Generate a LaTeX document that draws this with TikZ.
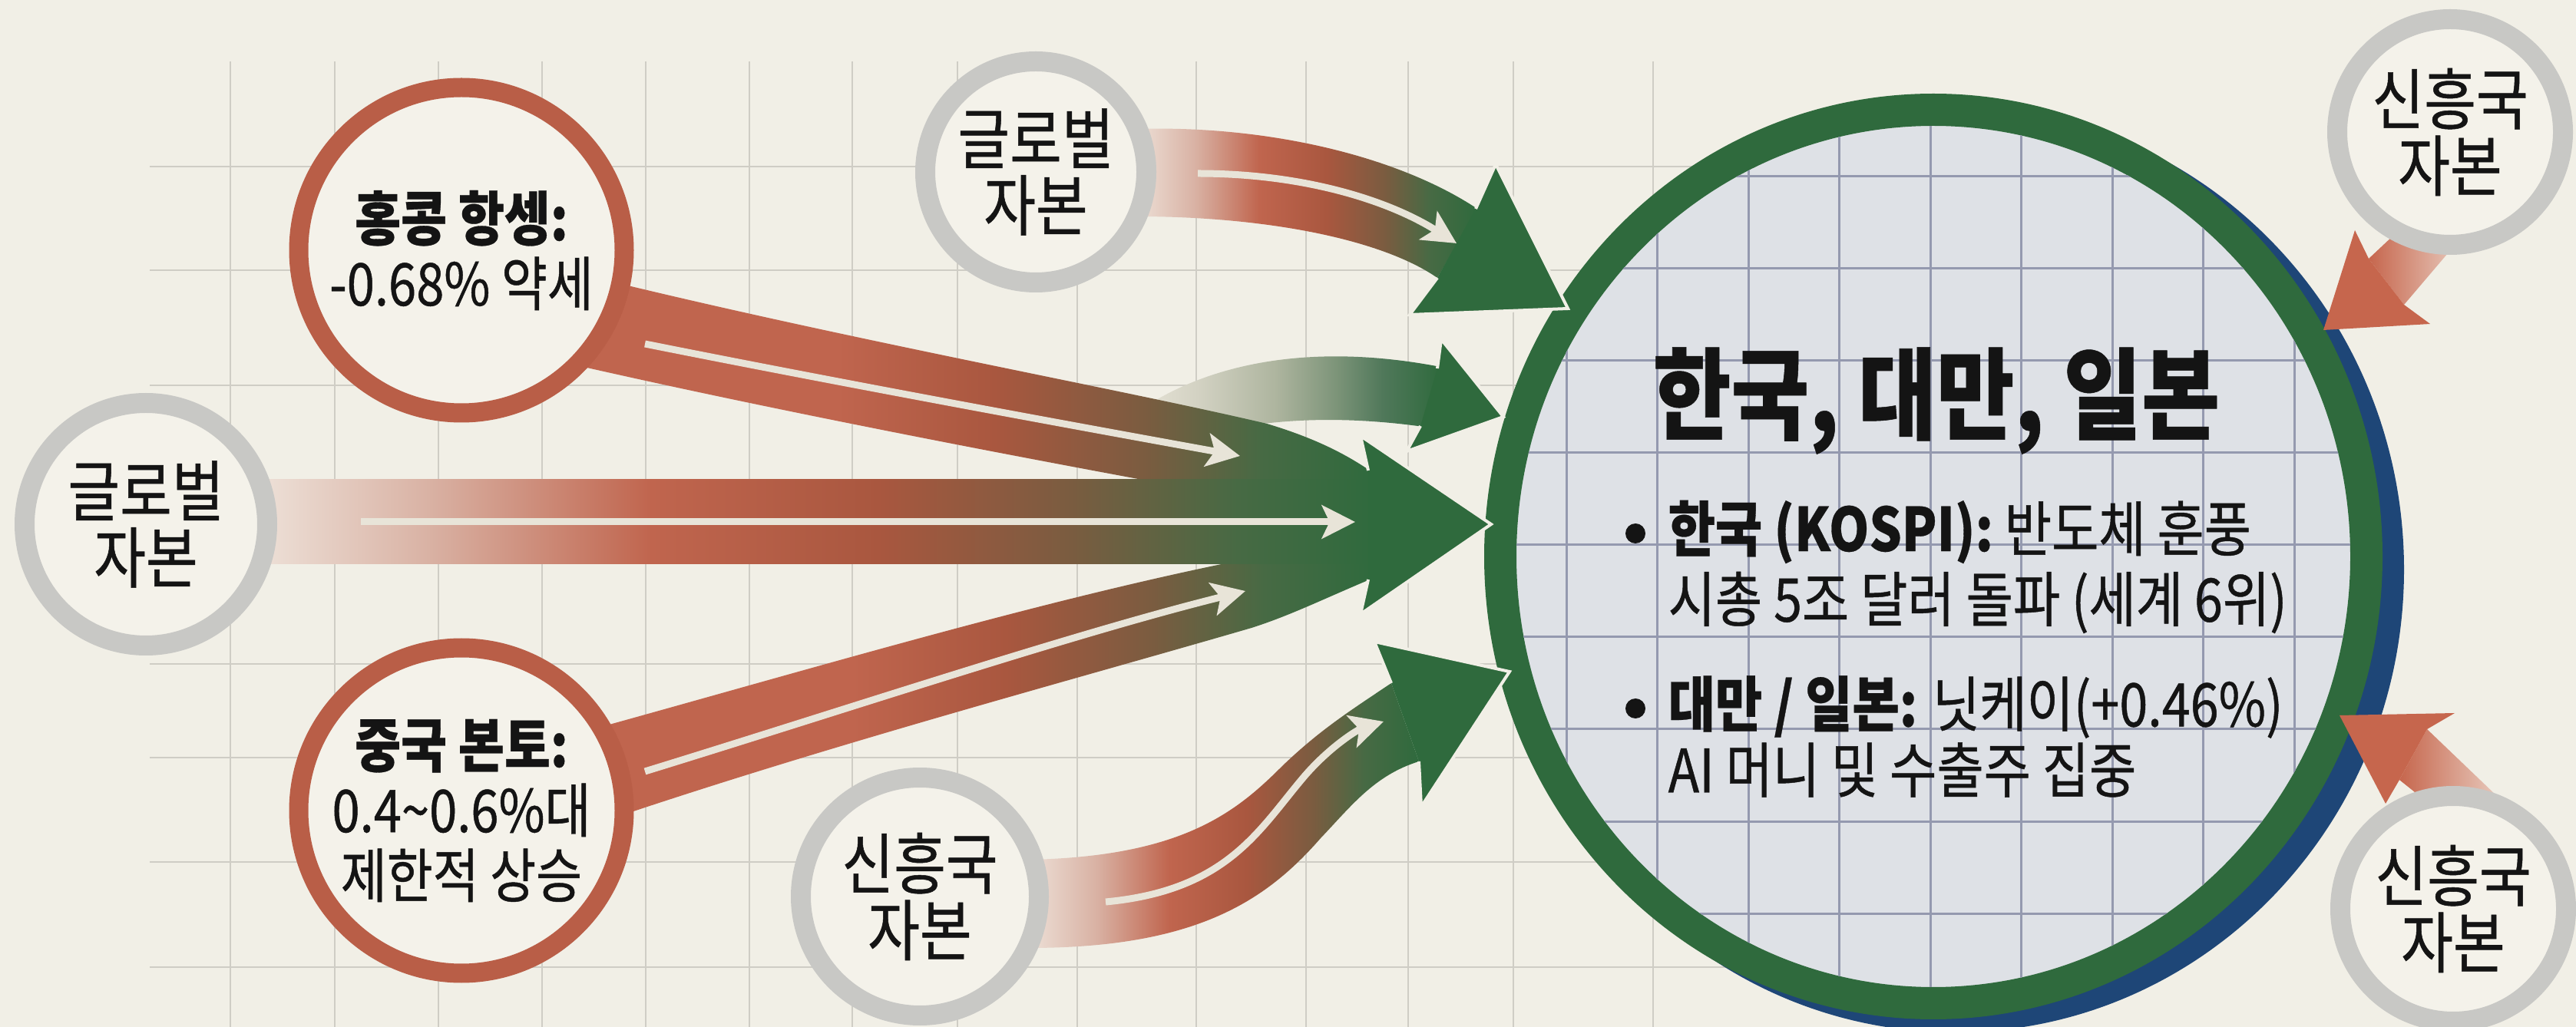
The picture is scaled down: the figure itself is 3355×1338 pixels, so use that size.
\documentclass[tikz,border=0pt]{standalone}
\usepackage{fontspec}
\newfontfamily\krc[FakeStretch=0.85, UprightFeatures={FakeBold=0.6}, BoldFeatures={FakeBold=0.4}]{Noto Sans CJK KR}
\usetikzlibrary{arrows.meta,shapes.geometric}

\definecolor{bgc}{HTML}{F1EFE6}
\definecolor{gridc}{HTML}{CFCDC5}
\definecolor{ringred}{HTML}{B95E47}
\definecolor{ringgrey}{HTML}{C8C8C5}
\definecolor{cfill}{HTML}{F4F2EA}
\definecolor{dgreen}{HTML}{2F6A3D}
\definecolor{navy}{HTML}{1E4677}
\definecolor{innerc}{HTML}{DEE1E6}
\definecolor{innergrid}{HTML}{9499AF}
\definecolor{flowc}{HTML}{E8E4D8}
\definecolor{txt}{HTML}{141414}
\definecolor{sPale}{HTML}{EDE0D7}
\definecolor{sPink}{HTML}{D9B2A4}
\definecolor{sRed}{HTML}{C0654E}
\definecolor{sRed2}{HTML}{A9573F}
\definecolor{sBrown}{HTML}{7A5C40}
\definecolor{sOlive}{HTML}{476A44}
\definecolor{sCream}{HTML}{EAE6DA}
\definecolor{sGrey}{HTML}{D3D2C3}
\definecolor{sSage}{HTML}{AEB59F}
\definecolor{sSage2}{HTML}{7E957A}
\definecolor{sGreen2}{HTML}{50785A}
\definecolor{rHead}{HTML}{C6664D}
\definecolor{rPale}{HTML}{E8CABD}

\pgfdeclarehorizontalshading{centralshade}{100bp}{color(0bp)=(sPale); color(25bp)=(sPale); color(32.5bp)=(sPink); color(42.5bp)=(sRed); color(52.7bp)=(sRed2); color(61.3bp)=(sBrown); color(68.8bp)=(sOlive); color(75bp)=(dgreen); color(100bp)=(dgreen)}
\pgfdeclarehorizontalshading{redshade}{100bp}{color(0bp)=(sRed); color(25bp)=(sRed); color(41bp)=(sRed); color(51bp)=(sRed2); color(60.6bp)=(sBrown); color(67.8bp)=(sOlive); color(75bp)=(dgreen); color(100bp)=(dgreen)}
\pgfdeclarehorizontalshading{topshade}{100bp}{color(0bp)=(sPale); color(25bp)=(sPale); color(33.6bp)=(sPink); color(43bp)=(sRed); color(52.9bp)=(sRed2); color(61.5bp)=(sBrown); color(68bp)=(sOlive); color(75bp)=(dgreen); color(100bp)=(dgreen)}
\pgfdeclarehorizontalshading{paleshade}{100bp}{color(0bp)=(sCream); color(25bp)=(sCream); color(36bp)=(sGrey); color(48.5bp)=(sSage); color(58bp)=(sSage2); color(65.7bp)=(sGreen2); color(75bp)=(dgreen); color(100bp)=(dgreen)}

\tikzset{
  gline/.style={draw=gridc, line width=0.8pt},
  igline/.style={draw=innergrid, line width=0.9pt},
  greycirc/.style={circle, draw=ringgrey, line width=7.8pt, fill=cfill, inner sep=0pt, align=center, text=txt, font=\krc\fontsize{26}{26}\selectfont},
  redcirc/.style={circle, draw=ringred, line width=7.5pt, fill=cfill, inner sep=0pt, minimum size=127.2pt, align=center, text=txt, font=\krc\fontsize{23}{25.5}\selectfont},
  flowline/.style={draw=flowc, line width=2.7pt, -{Stealth[length=13pt,width=13pt,inset=3pt]}},
  ghead/.style={fill=dgreen},
  rhead/.style={fill=rHead},
  hedge/.style={draw=bgc, line width=1.2pt, line join=miter},
  bodytxt/.style={anchor=west, inner sep=0pt, text=txt, font=\krc\fontsize{23.5}{27}\selectfont},
  bul/.style={circle, fill=txt, inner sep=0pt, minimum size=7.8pt},
}

\begin{document}
\begin{tikzpicture}[x=0.3pt,y=-0.3pt]
\useasboundingbox (0,0) rectangle (3355,1338);
\fill[bgc] (0,0) rectangle (3355,1338);

% background grid
\foreach \x in {300,436,571,706,841,976,1110,1247,1403,1558,1701,1834,1971,2153}
  \draw[gline] (\x,80) -- (\x,1338);
\foreach \y in {217,352,502,865,987,1123,1260}
  \draw[gline] (195,\y) -- (2250,\y);

% big circle
\fill[navy] (2546,742) ellipse [x radius=175.5pt, y radius=180.9pt];
\node[ellipse, draw=dgreen, line width=12.6pt, fill=innerc, inner sep=0pt,
      minimum width=338.4pt, minimum height=349.2pt] (asia) at (2518,725) {};
\begin{scope}
  \clip (2518,725) ellipse [x radius=162.9pt, y radius=168.3pt];
  \foreach \x in {2040,2158,2277,2395,2514,2632,2751,2869,2988}
    \draw[igline] (\x,100) -- (\x,1340);
  \foreach \y in {230,350,470,590,710,830,950,1070,1190,1310}
    \draw[igline] (1900,\y) -- (3150,\y);
\end{scope}

% pale branch band
\path[shading=paleshade] (1470,545) .. controls (1560,476) and (1700,444) .. (1876,478)
   -- (1854,556) .. controls (1740,540) and (1630,545) .. (1540,575) -- cycle;
% Hong Kong band
\path[shading=redshade] (760,358) .. controls (1100,442) and (1450,505) .. (1650,552)
   .. controls (1710,570) and (1750,590) .. (1784,613)
   -- (1790,680) .. controls (1500,628) and (1100,555) .. (760,478) -- cycle;
% China band
\path[shading=redshade] (790,945) .. controls (1150,845) and (1500,740) .. (1790,700)
   -- (1784,755) .. controls (1720,782) and (1680,802) .. (1630,818)
   .. controls (1400,885) and (1100,965) .. (810,1062) -- cycle;
% central band
\path[shading=centralshade] (340,625) rectangle (1792,735);
% top band
\path[shading=topshade] (1480,168) .. controls (1650,163) and (1820,203) .. (1924,272)
   -- (1872,362) .. controls (1800,312) and (1650,282) .. (1480,282) -- cycle;
% bottom band
\path[shading=topshade] (1340,1120) .. controls (1540,1116) and (1610,1058) .. (1670,998)
   .. controls (1720,950) and (1760,925) .. (1812,890)
   -- (1848,992) .. controls (1790,1010) and (1760,1050) .. (1720,1092)
   .. controls (1650,1172) and (1560,1235) .. (1340,1235) -- cycle;

% inner flow arrows
\draw[flowline] (1560,226) .. controls (1700,226) and (1810,262) .. (1897,317);
\draw[flowline] (840,448) .. controls (1100,500) and (1400,555) .. (1615,594);
\draw[flowline] (470,680) -- (1765,680);
\draw[flowline] (840,1005) .. controls (1100,925) and (1400,825) .. (1622,770);
\draw[flowline] (1440,1175) .. controls (1600,1160) and (1640,1080) .. (1700,1010)
   .. controls (1735,970) and (1770,950) .. (1802,940);

% green heads
\fill[ghead] (2042,402) -- (1948,214) -- (1922,272) -- (1872,362) -- (1836,410) -- cycle;
\draw[hedge] (1922,272) -- (1948,214) -- (2042,402) -- (1836,410) -- (1872,362);
\fill[ghead] (1958,543) -- (1877,442) -- (1872,480) -- (1850,555) -- (1832,588) -- cycle;
\draw[hedge] (1872,480) -- (1877,442) -- (1958,543) -- (1832,588) -- (1850,555);
\fill[ghead] (1942,683) -- (1772,568) -- (1782,613) -- (1782,755) -- (1772,800) -- cycle;
\draw[hedge] (1782,613) -- (1772,568) -- (1942,683) -- (1772,800) -- (1782,755);
\fill[ghead] (1966,875) -- (1790,836) -- (1812,890) -- (1848,992) -- (1851,1051) -- cycle;
\draw[hedge] (1812,890) -- (1790,836) -- (1966,875) -- (1851,1051) -- (1848,992);

% red arrows on the right
\path[left color=rHead, right color=rPale] (3085,337) -- (3131,397) -- (3205,310) -- (3135,290) -- cycle;
\fill[rhead] (3026,430) -- (3067,300) -- (3085,337) -- (3131,397) -- (3165,422) -- cycle;
\path[left color=rHead, right color=rPale] (3161,950) -- (3125,1016) -- (3180,1060) -- (3255,1040) -- cycle;
\fill[rhead] (3047,932) -- (3197,929) -- (3161,950) -- (3125,1016) -- (3107,1047) -- cycle;

% source circles
\node[greycirc, minimum size=94.8pt] (globL) at (190,683) {글로벌\\자본};
\node[greycirc, minimum size=86.4pt] (globT) at (1349,224) {글로벌\\자본};
\node[greycirc, minimum size=93pt] (emB) at (1198,1168) {신흥국\\자본};
\node[greycirc, minimum size=88.2pt] (emTR) at (3191,172) {신흥국\\자본};
\node[greycirc, minimum size=88.2pt] (emBR) at (3195,1184) {신흥국\\자본};
\node[redcirc] (hk) at (601,326) {{\bfseries 홍콩 항셍:}\\-0.68\% 약세};
\node[redcirc] (cn) at (601,1056) {{\bfseries 중국 본토:}\\0.4\textasciitilde0.6\%대\\제한적 상승};

% texts in the big circle
\node[text=txt, inner sep=0pt, font=\krc\bfseries\fontsize{39}{44}\selectfont] (title) at (2522,522) {한국, 대만, 일본};
\node[bul] (dot1) at (2130,695) {};
\node[bodytxt] (b1) at (2172,693) {{\bfseries 한국 (KOSPI):} 반도체 훈풍};
\node[bodytxt] (b1b) at (2172,785) {시총 5조 달러 돌파 (세계 6위)};
\node[bul] (dot2) at (2130,923) {};
\node[bodytxt] (b2) at (2172,921) {{\bfseries 대만 / 일본:} 닛케이(+0.46\%)};
\node[bodytxt] (b2b) at (2172,1003) {AI 머니 및 수출주 집중};
\end{tikzpicture}
\end{document}
